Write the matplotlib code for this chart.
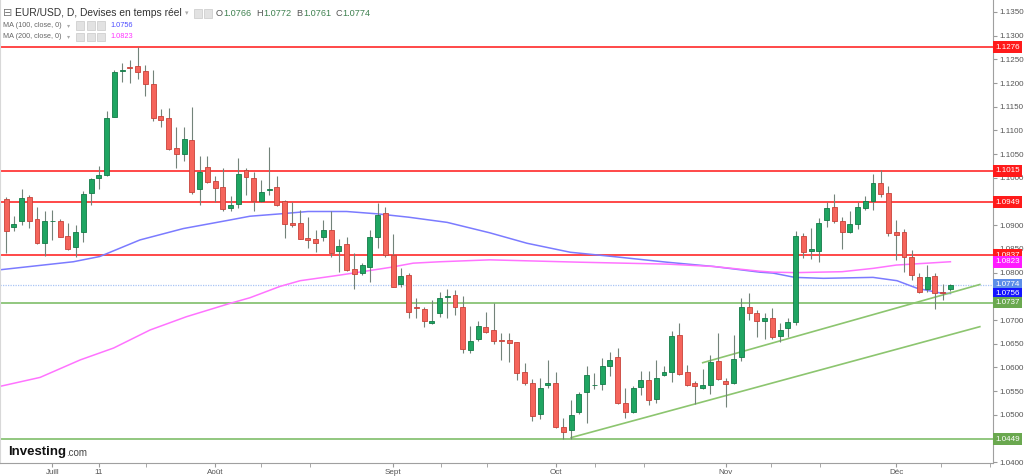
import numpy as np
import matplotlib
matplotlib.use("Agg")
import matplotlib.pyplot as plt
from matplotlib.patches import Rectangle

plt.rcParams['font.family'] = ['Liberation Sans', 'DejaVu Sans']

# daily candles EUR/USD, 23 juin -> 12 déc
opens = [1.0955, 1.0896, 1.0908, 1.0960, 1.0913, 1.0862, 1.0909, 1.0909, 1.0877, 1.0855,
         1.0885, 1.0969, 1.0999, 1.1005, 1.1129, 1.1226, 1.1233, 1.1236, 1.1225, 1.1199,
         1.1131, 1.1126, 1.1064, 1.1050, 1.1080, 1.0976, 1.1022, 1.0994, 1.0981, 1.0936,
         1.0944, 1.1017, 1.0999, 1.0951, 1.0974, 1.0980, 1.0951, 1.0904, 1.0905, 1.0874,
         1.0870, 1.0876, 1.0891, 1.0846, 1.0860, 1.0808, 1.0799, 1.0811, 1.0876, 1.0925,
         1.0837, 1.0776, 1.0795, 1.0727, 1.0723, 1.0694, 1.0714, 1.0748, 1.0753, 1.0727,
         1.0637, 1.0660, 1.0685, 1.0680, 1.0658, 1.0658, 1.0653, 1.0591, 1.0568, 1.0501,
         1.0564, 1.0567, 1.0475, 1.0468, 1.0507, 1.0548, 1.0562, 1.0565, 1.0603, 1.0621,
         1.0526, 1.0505, 1.0558, 1.0573, 1.0533, 1.0584, 1.0591, 1.0668, 1.0590, 1.0568,
         1.0556, 1.0564, 1.0614, 1.0571, 1.0568, 1.0621, 1.0727, 1.0714, 1.0697, 1.0705,
         1.0666, 1.0683, 1.0695, 1.0877, 1.0846, 1.0846, 1.0911, 1.0939, 1.0909, 1.0886,
         1.0903, 1.0936, 1.0952, 1.0990, 1.0969, 1.0886, 1.0886, 1.0834, 1.0791, 1.0766,
         1.0793, 1.0760, 1.0766]
highs = [1.0959, 1.0920, 1.0976, 1.0964, 1.0939, 1.0931, 1.0932, 1.0913, 1.0905, 1.0901,
         1.0973, 1.1000, 1.1025, 1.1140, 1.1228, 1.1243, 1.1249, 1.1275, 1.1239, 1.1228,
         1.1145, 1.1147, 1.1107, 1.1107, 1.1150, 1.1046, 1.1046, 1.1003, 1.1020, 1.0962,
         1.1041, 1.1020, 1.1013, 1.0995, 1.1066, 1.1004, 1.0953, 1.0950, 1.0932, 1.0918,
         1.0890, 1.0912, 1.0929, 1.0872, 1.0876, 1.0841, 1.0820, 1.0891, 1.0946, 1.0939,
         1.0881, 1.0809, 1.0799, 1.0746, 1.0727, 1.0742, 1.0760, 1.0765, 1.0764, 1.0751,
         1.0688, 1.0697, 1.0716, 1.0735, 1.0673, 1.0672, 1.0654, 1.0609, 1.0575, 1.0578,
         1.0616, 1.0591, 1.0493, 1.0531, 1.0549, 1.0602, 1.0588, 1.0619, 1.0633, 1.0640,
         1.0556, 1.0560, 1.0593, 1.0593, 1.0616, 1.0603, 1.0677, 1.0693, 1.0605, 1.0572,
         1.0596, 1.0626, 1.0673, 1.0577, 1.0668, 1.0746, 1.0756, 1.0721, 1.0714, 1.0725,
         1.0693, 1.0704, 1.0888, 1.0884, 1.0894, 1.0915, 1.0950, 1.0965, 1.0918, 1.0929,
         1.0948, 1.0962, 1.1009, 1.1016, 1.0983, 1.0911, 1.0893, 1.0848, 1.0800, 1.0816,
         1.0799, 1.0777, 1.0776]
lows = [1.0841, 1.0887, 1.0901, 1.0894, 1.0861, 1.0835, 1.0869, 1.0875, 1.0848, 1.0834,
        1.0865, 1.0943, 1.0977, 1.1004, 1.1128, 1.1203, 1.1201, 1.1208, 1.1173, 1.1119,
        1.1107, 1.1059, 1.1020, 1.1036, 1.0966, 1.0943, 1.0990, 1.0950, 1.0929, 1.0931,
        1.0936, 1.0964, 1.0929, 1.0950, 1.0964, 1.0941, 1.0874, 1.0897, 1.0870, 1.0853,
        1.0844, 1.0867, 1.0832, 1.0802, 1.0804, 1.0766, 1.0796, 1.0781, 1.0853, 1.0834,
        1.0769, 1.0770, 1.0704, 1.0704, 1.0685, 1.0692, 1.0707, 1.0704, 1.0711, 1.0630,
        1.0631, 1.0655, 1.0672, 1.0650, 1.0616, 1.0612, 1.0574, 1.0563, 1.0486, 1.0491,
        1.0556, 1.0472, 1.0448, 1.0450, 1.0502, 1.0482, 1.0554, 1.0552, 1.0581, 1.0523,
        1.0493, 1.0503, 1.0542, 1.0521, 1.0526, 1.0582, 1.0570, 1.0584, 1.0560, 1.0523,
        1.0554, 1.0545, 1.0574, 1.0516, 1.0566, 1.0614, 1.0700, 1.0664, 1.0659, 1.0661,
        1.0654, 1.0665, 1.0690, 1.0830, 1.0828, 1.0823, 1.0897, 1.0904, 1.0849, 1.0884,
        1.0893, 1.0932, 1.0932, 1.0959, 1.0877, 1.0827, 1.0802, 1.0785, 1.0758, 1.0760,
        1.0723, 1.0742, 1.0761]
closes = [1.0887, 1.0903, 1.0958, 1.0908, 1.0862, 1.0909, 1.0910, 1.0876, 1.0849, 1.0886,
          1.0966, 1.0998, 1.1005, 1.1126, 1.1224, 1.1227, 1.1232, 1.1224, 1.1197, 1.1126,
          1.1122, 1.1060, 1.1050, 1.1083, 1.0971, 1.1013, 1.0992, 1.0979, 1.0935, 1.0943,
          1.1008, 1.1001, 1.0952, 1.0971, 1.0977, 1.0943, 1.0902, 1.0901, 1.0872, 1.0869,
          1.0863, 1.0890, 1.0841, 1.0857, 1.0806, 1.0797, 1.0816, 1.0876, 1.0922, 1.0837,
          1.0770, 1.0793, 1.0718, 1.0725, 1.0697, 1.0697, 1.0746, 1.0751, 1.0727, 1.0638,
          1.0655, 1.0688, 1.0674, 1.0656, 1.0655, 1.0651, 1.0588, 1.0568, 1.0498, 1.0557,
          1.0568, 1.0474, 1.0463, 1.0500, 1.0545, 1.0584, 1.0564, 1.0602, 1.0616, 1.0524,
          1.0507, 1.0556, 1.0573, 1.0531, 1.0577, 1.0591, 1.0666, 1.0586, 1.0562, 1.0560,
          1.0563, 1.0611, 1.0575, 1.0566, 1.0617, 1.0727, 1.0714, 1.0697, 1.0705, 1.0665,
          1.0679, 1.0695, 1.0877, 1.0844, 1.0849, 1.0905, 1.0936, 1.0908, 1.0886, 1.0903,
          1.0938, 1.0952, 1.0990, 1.0965, 1.0884, 1.0879, 1.0834, 1.0795, 1.0760, 1.0790,
          1.0758, 1.0756, 1.0774]

# moving averages (candle index, value)
ma100_idx = [0.2, 9.7, 13.1, 18.3, 23.9, 29.9, 32.5, 36.4, 40, 45, 49, 53, 58, 63.5,
             68.3, 73.9, 79.4, 86.4, 92.4, 98.4, 100.1, 102.9, 106.6, 113, 116.1, 118.7, 121.7, 123]
ma100_val = [1.0806, 1.0823, 1.0834, 1.0869, 1.0893, 1.0911, 1.0919, 1.0924, 1.0929, 1.0929,
             1.0924, 1.0917, 1.0906, 1.0884, 1.0862, 1.0843, 1.0834, 1.0822, 1.0813, 1.0801,
             1.0799, 1.0790, 1.0788, 1.0790, 1.0783, 1.0767, 1.0757, 1.0756]
ma200_idx = [0.2, 5.4, 10.6, 14.9, 19.6, 24.3, 29.9, 32.5, 36.4, 39, 44.2, 50.6, 53.6, 57.1,
             63.5, 75.2, 86.4, 92.4, 98.4, 100.1, 103, 109, 113, 116, 120, 123]
ma200_val = [1.0560, 1.0579, 1.0616, 1.0641, 1.0679, 1.0707, 1.0735, 1.0747, 1.0771, 1.0783,
             1.0795, 1.0811, 1.0820, 1.0823, 1.0827, 1.0822, 1.0818, 1.0813, 1.0803, 1.0801,
             1.0800, 1.0802, 1.0809, 1.0816, 1.0820, 1.0823]

red_levels = [1.1276, 1.1015, 1.0949, 1.0837]
green_levels = [1.0737, 1.0449]
last_price = 1.0774
ma100_last = 1.0756
ma200_last = 1.0823

trend_low_idx = [74.0, 126.8]
trend_low_val = [1.0452, 1.0686]
trend_up_idx = [91.0, 126.8]
trend_up_val = [1.0610, 1.0775]

month_idx = [7, 13, 28, 51, 72, 94, 116]
month_lbl = ['Juill', '11', 'Août', 'Sept', 'Oct', 'Nov', 'Déc']
minor_idx = [19.1, 33.9, 40.3, 57.2, 63.1, 77.1, 83.4, 99.8, 106.2, 121.8, 128.1]

W, H = 1024, 476
fig = plt.figure(figsize=(W / 100, H / 100), dpi=100)
fig.patch.set_facecolor('white')
ax = fig.add_axes([0, 13 / H, 993 / W, 1 - 13 / H])

x = np.arange(1, len(opens) + 1)
o = np.array(opens)
c = np.array(closes)
up = c >= o
lo = np.minimum(o, c)
hgt = np.maximum(np.abs(c - o), 0.00008)

for lv in red_levels:
    ax.axhline(lv, color='#ff4848', lw=1.4, zorder=2)
for lv in green_levels:
    ax.axhline(lv, color='#92c77f', lw=1.4, zorder=2)
ax.axhline(last_price, color='#a9c4f5', lw=0.9, ls=(0, (1, 1)), zorder=2)

ax.plot(ma100_idx, ma100_val, color='#7b7bff', lw=1.1, zorder=2.5)
ax.plot(ma200_idx, ma200_val, color='#ff73ff', lw=1.1, zorder=2.5)
ax.plot(trend_low_idx, trend_low_val, color='#8cc56f', lw=1.2, zorder=2.6)
ax.plot(trend_up_idx, trend_up_val, color='#8cc56f', lw=1.2, zorder=2.6)

ax.vlines(x, lows, highs, color='#73837a', lw=0.8, zorder=3)
ax.bar(x[up], hgt[up], bottom=lo[up], width=0.64, color='#1fa562',
       edgecolor='#137a47', lw=0.6, zorder=4)
ax.bar(x[~up], hgt[~up], bottom=lo[~up], width=0.64, color='#f5645b',
       edgecolor='#c8423a', lw=0.6, zorder=4)

ax.set_xlim(0.22, 128.5)
ax.set_ylim(1.03984, 1.13752)

ax.set_xticks(month_idx)
ax.set_xticklabels(month_lbl)
ax.set_xticks(minor_idx, minor=True)
ax.tick_params(axis='x', which='both', length=3, color='#9a9a9a', labelsize=5.8,
               labelcolor='#555555', pad=1.5)

# coloured price tags on the right axis
tags = [(1.1276, '#ff1a1a'), (1.1015, '#ff1a1a'), (1.0949, '#ff1a1a'), (1.0837, '#ff1a1a'),
        (ma200_last, '#ff1aff'), (last_price, '#5d8ee8'), (ma100_last, '#1414ff'),
        (1.0737, '#6aa84f'), (1.0449, '#6aa84f')]
tag_vals = [t[0] for t in tags]

ax.yaxis.tick_right()
yt = np.arange(1.0400, 1.1376, 0.005)
ax.set_yticks(yt)
# grid labels hidden where a price tag covers them
ax.set_yticklabels([f'{v:.4f}' if min(abs(v - t) for t in tag_vals) > 0.0011 else ''
                    for v in yt])
ax.tick_params(axis='y', length=3, color='#9a9a9a', labelsize=5.8,
               labelcolor='#555555', pad=1.5)

ax.spines['top'].set_visible(False)
ax.spines['left'].set_color('#d8d8d8')
ax.spines['right'].set_color('#a0a0a0')
ax.spines['bottom'].set_color('#a0a0a0')
ax.set_facecolor('white')

for val, col in tags:
    ax.annotate(f'{val:.4f}', xy=(1.0, val), xycoords=('axes fraction', 'data'),
                xytext=(1.6, 0), textcoords='offset points', ha='left', va='center',
                fontsize=5.8, color='white', zorder=10, annotation_clip=False,
                bbox=dict(boxstyle='square,pad=0.3', fc=col, ec='none'))


def px(xp, yp):
    return xp / W, 1 - yp / H


# header legend
fig.text(*px(3, 13.5), '⊟', fontsize=8, color='#777777', va='center', family='DejaVu Sans')
fig.text(*px(15, 13.5), 'EUR/USD, D, Devises en temps réel', fontsize=7.4, color='#333333', va='center')
fig.text(*px(185, 13.5), '▾', fontsize=5, color='#aaaaaa', va='center', family='DejaVu Sans')
for lab, val, xp in [('O', '1.0766', 216), ('H', '1.0772', 256), ('B', '1.0761', 296), ('C', '1.0774', 335)]:
    fig.text(*px(xp, 13.5), lab, fontsize=6.6, color='#555555', va='center')
    fig.text(*px(xp + 7, 13.5), val, fontsize=6.6, color='#3f8150', va='center')
fig.text(*px(3, 25.5), 'MA (100, close, 0)', fontsize=5.2, color='#666666', va='center')
fig.text(*px(3, 37), 'MA (200, close, 0)', fontsize=5.2, color='#666666', va='center')
fig.text(*px(67, 25.5), '▾', fontsize=4.5, color='#aaaaaa', va='center', family='DejaVu Sans')
fig.text(*px(67, 37), '▾', fontsize=4.5, color='#aaaaaa', va='center', family='DejaVu Sans')
fig.text(*px(110, 25.5), f'{ma100_last:.4f}', fontsize=5.3, color='#4d4dff', va='center')
fig.text(*px(110, 37), f'{ma200_last:.4f}', fontsize=5.3, color='#ff33ff', va='center')

for xp, yp in [(194, 9.5), (204, 9.5), (76, 21.5), (86.5, 21.5), (97, 21.5), (76, 33), (86.5, 33), (97, 33)]:
    x0, y0 = px(xp, yp + 8)
    fig.patches.append(Rectangle((x0, y0), 8 / W, 8 / H, transform=fig.transFigure,
                                 fc='#e2e2e2', ec='#c8c8c8', lw=0.5))

# logo
logo = fig.text(*px(8, 455.5), 'Investing', fontsize=9.5, fontweight='bold', color='#111111',
                va='baseline')
bb = logo.get_window_extent(renderer=fig.canvas.get_renderer())
fig.text(bb.x1 / W + 0.5 / W, 1 - 455.5 / H, '.com', fontsize=7, color='#444444', va='baseline')

fig.savefig('out.png', dpi=100, facecolor='white')
